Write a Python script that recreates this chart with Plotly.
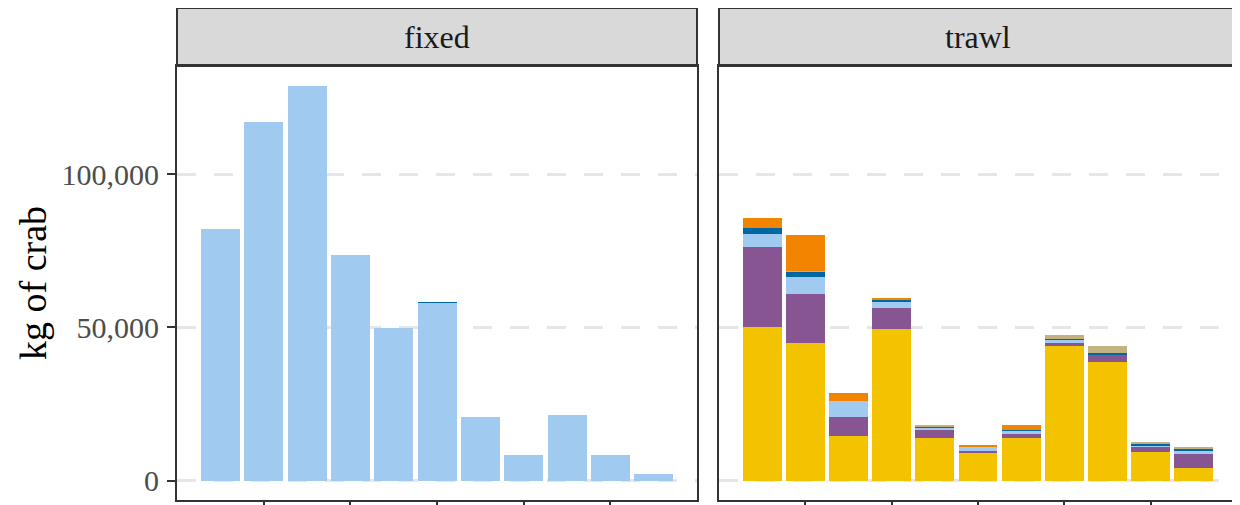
import plotly.graph_objects as go
from plotly.subplots import make_subplots

years = list(range(2009, 2020))
tick_years = [2010, 2012, 2014, 2016, 2018]
panels = ["fixed", "trawl"]

# stacking order bottom -> top
series_names = ["group 1", "group 2", "group 3", "group 4", "group 5", "group 6"]
series_colors = ["#F3C300", "#875692", "#A1CAF1", "#0067A5", "#C2B280", "#F38400"]

# fixed gear (kg)
fixed_g1 = [0, 0, 0, 0, 0, 0, 0, 0, 0, 0, 0]
fixed_g2 = [0, 0, 0, 0, 0, 0, 0, 0, 0, 0, 0]
fixed_g3 = [82100, 116900, 128700, 73600, 49800, 58000, 20800, 8500, 21500, 8500, 2300]
fixed_g4 = [0, 0, 0, 0, 0, 250, 0, 0, 0, 0, 0]
fixed_g5 = [0, 0, 0, 0, 0, 0, 0, 0, 0, 0, 0]
fixed_g6 = [0, 0, 0, 0, 0, 0, 0, 0, 0, 0, 0]

# trawl gear (kg)
trawl_g1 = [50300, 45000, 14600, 49500, 14000, 9100, 14000, 43900, 38700, 9400, 4100]
trawl_g2 = [26100, 15900, 6200, 6700, 2400, 550, 1100, 1100, 2400, 1800, 4700]
trawl_g3 = [4000, 5600, 5100, 2400, 900, 1500, 1200, 1000, 150, 300, 1000]
trawl_g4 = [2100, 1700, 0, 450, 350, 0, 200, 350, 250, 650, 550]
trawl_g5 = [0, 300, 0, 0, 300, 0, 0, 1300, 2300, 450, 350]
trawl_g6 = [3300, 11700, 2700, 450, 0, 550, 1600, 0, 0, 0, 0]

fixed_series = [fixed_g1, fixed_g2, fixed_g3, fixed_g4, fixed_g5, fixed_g6]
trawl_series = [trawl_g1, trawl_g2, trawl_g3, trawl_g4, trawl_g5, trawl_g6]

# page body adds an 8px offset; positions below are in figure coordinates
OFF = 8
W, H = 1240, 505
ml = 177 - OFF
mt = 66 - OFF
mr = W - (1237 - OFF)
mb = H - (500 - OFF)
pw = W - ml - mr
ph = H - mt - mb
d1 = (0.0, (697 - 177) / pw)
d2 = ((719 - 177) / pw, 1.0)

fig = make_subplots(rows=1, cols=2, shared_yaxes=True, horizontal_spacing=0.02)

for col, data in ((1, fixed_series), (2, trawl_series)):
    for name, color, vals in zip(series_names, series_colors, data):
        fig.add_trace(
            go.Bar(x=years, y=vals, name=name, marker_color=color,
                   marker_line_width=0, showlegend=False),
            row=1, col=col)

serif = "Liberation Serif"
axis_common = dict(showline=True, mirror=True, linecolor="#333333", linewidth=2,
                   zeroline=False)

fig.update_xaxes(range=[2008.0, 2020.0], tickvals=tick_years, showticklabels=False,
                 ticks="outside", ticklen=7, tickwidth=2, tickcolor="#333333",
                 showgrid=False, **axis_common)
fig.update_yaxes(range=[-6300, 135300], tickvals=[0, 50000, 100000],
                 ticktext=["0", "50,000", "100,000"],
                 showgrid=True, gridcolor="#E6E6E6", gridwidth=2.7,
                 griddash="19px,18px", **axis_common)
fig.update_yaxes(ticks="outside", ticklen=8, tickwidth=2, tickcolor="#333333",
                 tickfont=dict(family=serif, size=30, color="#4D4D4D"),
                 ticklabelstandoff=2, row=1, col=1)
fig.update_yaxes(ticks="", showticklabels=False, row=1, col=2)

fig.update_layout(
    xaxis=dict(domain=list(d1)), xaxis2=dict(domain=list(d2)),
    barmode="stack", bargap=0.1,
    width=W, height=H,
    margin=dict(l=ml, r=mr, t=mt, b=mb, autoexpand=False),
    plot_bgcolor="white", paper_bgcolor="white",
    font=dict(family=serif),
)

strip_top = 1 + (66 - 8) / ph
for (x0, x1), label in zip((d1, d2), panels):
    fig.add_shape(type="rect", xref="paper", yref="paper", x0=x0, x1=x1,
                  y0=1.0, y1=strip_top, fillcolor="#D9D9D9",
                  line=dict(color="#333333", width=2), layer="below")
    fig.add_annotation(text=label, xref="paper", yref="paper", x=(x0 + x1) / 2,
                       y=(1 + strip_top) / 2, showarrow=False,
                       font=dict(family=serif, size=32, color="#1A1A1A"),
                       xanchor="center", yanchor="middle")

fig.add_annotation(text="kg of crab", xref="paper", yref="paper",
                   x=(33 - 177) / pw, y=0.5, textangle=-90, showarrow=False,
                   font=dict(family=serif, size=38, color="black"),
                   xanchor="center", yanchor="middle")

fig.write_html("out.html")
